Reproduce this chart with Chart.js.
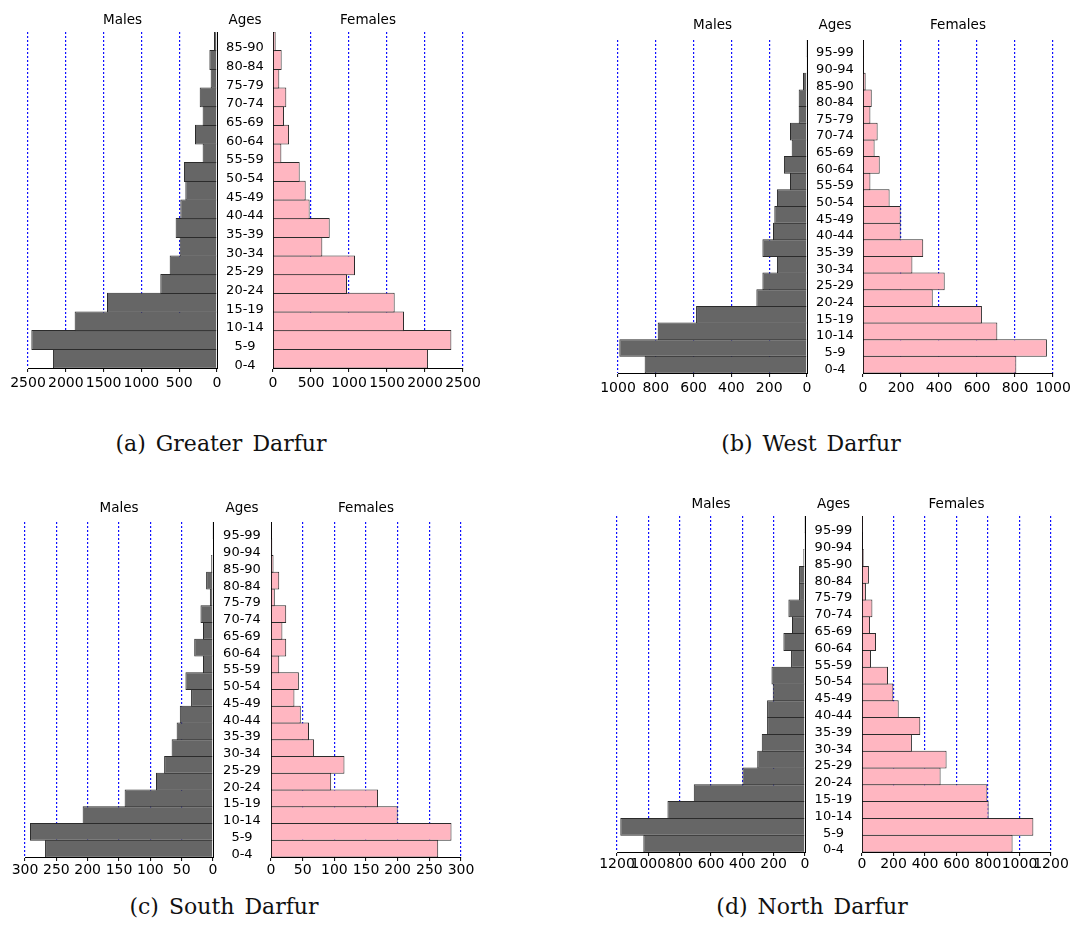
<!DOCTYPE html>
<html>
<head>
<meta charset="utf-8">
<script src="https://cdn.jsdelivr.net/npm/chart.js@4.4.1/dist/chart.umd.min.js"></script>
<style>
  body { margin: 0; background: #fff; }
  #page { position: relative; width: 1070px; height: 939px; overflow: hidden; background: #fff; }
  canvas { position: absolute; }
  .t { position: absolute; font: 13.5px "DejaVu Sans"; color: #000; transform: translate(-50%, -50%); white-space: nowrap; }
  .cap { position: absolute; font: 22px "DejaVu Serif"; color: #111; transform: translate(-50%, -50%); white-space: nowrap; word-spacing: 3px; }
</style>
</head>
<body>
<div id="page"></div>
<script>
// age groups, bottom row first
const agesGreater = ["0-4", "5-9", "10-14", "15-19", "20-24", "25-29", "30-34", "35-39", "40-44",
  "45-49", "50-54", "55-59", "60-64", "65-69", "70-74", "75-79", "80-84", "85-90"];
const agesRegion = agesGreater.concat(["90-94", "95-99"]);

// (a) Greater Darfur
const greaterMales = [2170, 2456, 1883, 1455, 750, 626, 494, 547, 485, 419, 437, 190, 291, 190, 229, 84, 101, 40];
const greaterFemales = [2040, 2347, 1724, 1601, 974, 1079, 649, 746, 482, 430, 351, 110, 211, 145, 175, 83, 114, 35];
// (b) West Darfur
const westMales = [859, 993, 790, 587, 268, 236, 159, 236, 180, 173, 159, 90, 122, 81, 90, 44, 44, 21, 2, 6];
const westFemales = [807, 968, 707, 626, 367, 430, 260, 317, 198, 198, 140, 39, 88, 61, 77, 39, 46, 14, 5, 5];
// (c) South Darfur
const southMales = [268, 292, 208, 141, 91, 78, 66, 58, 53, 35, 44, 16, 30, 16, 20, 5, 11, 3, 1, 1.5];
const southFemales = [264, 285, 200, 169, 95, 116, 68, 60, 47, 37, 44, 13, 24, 18, 24, 6, 13, 4, 2, 0.5];
// (d) North Darfur
const northMales = [1032, 1179, 878, 710, 399, 305, 276, 242, 242, 206, 214, 89, 138, 83, 106, 38, 38, 11, 2, 1];
const northFemales = [956, 1088, 804, 796, 499, 537, 317, 370, 233, 199, 165, 57, 89, 51, 66, 25, 44, 11, 6, 1];

// axis ranges
const axisMax = [2500, 1000, 300, 1200];
const axisStep = [500, 200, 50, 200];
const captions = ["(a) Greater Darfur", "(b) West Darfur", "(c) South Darfur", "(d) North Darfur"];

const maleColor = "#666666";
const femaleColor = "#ffb6c1";
const edgeColor = "#2b2b2b";
const gridBlue = "#1010ff";
const tickFont = { family: "DejaVu Sans", size: 14 };
const ageFont = { family: "DejaVu Sans", size: 13 };

// layout of each panel (pixels on the page)
const panels = [
  { males: greaterMales, females: greaterFemales, ages: agesGreater,
    box: { mLeft: 28, zeroM: 217, zeroF: 273, fRight: 463, top: 32, bottom: 368 },
    titleY: 19, capX: 221, capY: 443, labelShift: 6.5, tickPad: 3 },
  { males: westMales, females: westFemales, ages: agesRegion,
    box: { mLeft: 618, zeroM: 807, zeroF: 863, fRight: 1053, top: 40, bottom: 373 },
    titleY: 24, capX: 811, capY: 443, labelShift: 4.5, tickPad: 3 },
  { males: southMales, females: southFemales, ages: agesRegion,
    box: { mLeft: 25, zeroM: 213, zeroF: 271, fRight: 461, top: 522, bottom: 857 },
    titleY: 507, capX: 224, capY: 906, labelShift: 5.5, tickPad: 1 },
  { males: northMales, females: northFemales, ages: agesRegion,
    box: { mLeft: 617, zeroM: 805, zeroF: 862, fRight: 1051, top: 516, bottom: 852 },
    titleY: 503, capX: 812, capY: 906, labelShift: 6.5, tickPad: 0 },
];

const page = document.getElementById("page");

function addText(cls, text, x, y) {
  const d = document.createElement("div");
  d.className = cls;
  d.textContent = text;
  d.style.left = x + "px";
  d.style.top = y + "px";
  page.appendChild(d);
}

function widestLabel(labels) {
  const ctx = document.createElement("canvas").getContext("2d");
  ctx.font = ageFont.size + "px " + ageFont.family;
  return Math.max(...labels.map((l) => ctx.measureText(l).width));
}

function drawSide(p, idx, isMale) {
  const g = p.box;
  const padL = isMale ? 28 : 12;
  const padR = isMale ? 0 : 28;
  const padT = 24; // room for the half-height of the top age label
  const left = isMale ? g.mLeft - padL : g.zeroF - padL;
  const right = isMale ? g.zeroF : g.fRight + padR;
  const top = g.top - padT;
  const axisH = 30;
  const gap = g.zeroF - g.zeroM;

  const canvas = document.createElement("canvas");
  canvas.width = right - left;
  canvas.height = g.bottom - top + axisH;
  canvas.style.left = left + "px";
  canvas.style.top = top + "px";
  page.appendChild(canvas);

  new Chart(canvas, {
    type: "bar",
    data: {
      labels: p.ages,
      datasets: [
        {
          data: isMale ? p.males : p.females,
          backgroundColor: isMale ? maleColor : femaleColor,
          borderColor: edgeColor,
          borderWidth: 1,
          categoryPercentage: 1,
          barPercentage: 1.06,
        },
      ],
    },
    options: {
      indexAxis: "y",
      responsive: false,
      animation: false,
      events: [],
      layout: { padding: { left: padL, right: padR, top: padT, bottom: 0 } },
      plugins: { legend: { display: false }, tooltip: { enabled: false } },
      scales: {
        x: {
          type: "linear",
          min: 0,
          max: axisMax[idx],
          reverse: isMale,
          ticks: {
            stepSize: axisStep[idx],
            autoSkip: false,
            maxRotation: 0,
            minRotation: 0,
            color: "#000",
            font: tickFont,
            padding: p.tickPad,
            callback: (v) => String(v),
          },
          grid: {
            color: (c) => (c.tick && c.tick.value === 0 ? "rgba(0,0,0,0)" : gridBlue),
            lineWidth: 1.2,
            tickColor: "#000",
            tickWidth: 1,
            tickLength: 4,
          },
          border: { display: true, color: "#000", width: 1, dash: [2, 2] },
          afterFit: (s) => { s.height = axisH; },
        },
        y: {
          type: "category",
          reverse: true,
          position: isMale ? "right" : "left",
          grid: { display: false, drawTicks: false },
          border: { display: true, color: "#000", width: 1 },
          ticks: {
            display: isMale,
            autoSkip: false,
            color: "#000",
            font: ageFont,
            crossAlign: "center",
            labelOffset: p.labelShift,
            padding: gap / 2 - widestLabel(p.ages) / 2,
          },
          afterFit: (s) => { s.width = isMale ? gap : 0; },
        },
      },
    },
  });
}

panels.forEach((p, i) => {
  const g = p.box;
  drawSide(p, i, true);
  drawSide(p, i, false);
  addText("t", "Males", (g.mLeft + g.zeroM) / 2, p.titleY);
  addText("t", "Ages", (g.zeroM + g.zeroF) / 2, p.titleY);
  addText("t", "Females", (g.zeroF + g.fRight) / 2, p.titleY);
  addText("cap", captions[i], p.capX, p.capY);
});
</script>
</body>
</html>
